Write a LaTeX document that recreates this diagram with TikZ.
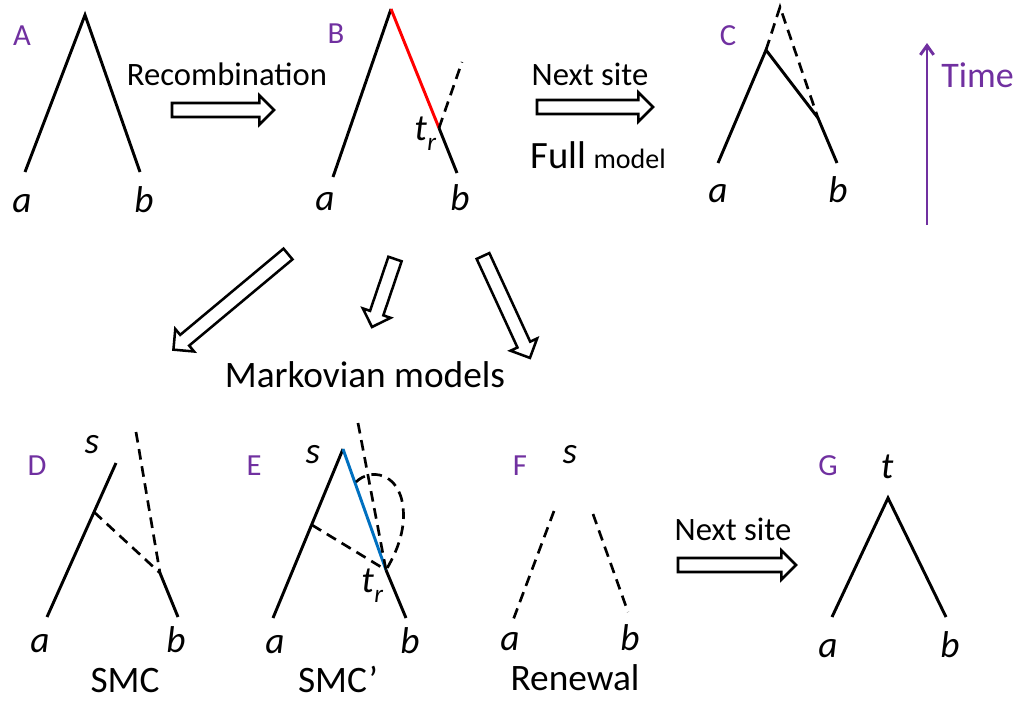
\documentclass[tikz,border=0pt]{standalone}
\usepackage{fontspec}
\setmainfont{Carlito}
\usetikzlibrary{calc,arrows.meta}

\definecolor{panelpurple}{HTML}{7030A0}
\definecolor{recred}{HTML}{FF0000}
\definecolor{smcblue}{HTML}{0070C0}

\tikzset{
  branch/.style={line width=2.2pt},
  ghost/.style={line width=2pt, dash pattern=on 8pt off 5pt},
  fat/.style={draw=black, line width=1.9pt, fill=white, line join=miter},
  panel/.style={font=\fontsize{23}{23}\selectfont, text=panelpurple, anchor=base, inner sep=0pt},
  var/.style={font=\fontsize{28}{28}\selectfont\itshape, anchor=base, inner sep=0pt},
  txt/.style={font=\fontsize{24.5}{24.5}\selectfont, anchor=base, inner sep=0pt},
  bigtxt/.style={font=\fontsize{28}{28}\selectfont, anchor=base, inner sep=0pt},
  timeaxis/.style={line width=2.2pt, draw=panelpurple, -{Straight Barb[length=7pt,width=10pt]}},
}

% recombination time label: italic t with a lowered r
\newcommand\trlabel{t\kern0.5pt\raisebox{-0.28em}{\fontsize{19}{19}\selectfont r}}

% hollow block arrow between two named coordinates
\newcommand\fatarrow[2]{%
  \draw[fat] let \p1=(#1), \p2=(#2),
    \n1={atan2(\y2-\y1,\x2-\x1)}, \n2={veclen(\x2-\x1,\y2-\y1)} in
    [shift={(\x1,\y1)}, rotate=\n1]
    (0pt,-5.25pt) -- ({\n2*1pt-11pt},-5.25pt) -- ({\n2*1pt-11pt},-11pt)
    -- ({\n2*1pt},0pt)
    -- ({\n2*1pt-11pt},11pt) -- ({\n2*1pt-11pt},5.25pt) -- (0pt,5.25pt) -- cycle;}

\begin{document}
\begin{tikzpicture}[x=0.75pt,y=-0.75pt]
\useasboundingbox (0,0) rectangle (1024,700);

% ---------- A: initial tree ----------
\coordinate (A-top) at (85,15);
\coordinate (A-a) at (25,172);
\coordinate (A-b) at (140,172);
\draw[branch] (A-a) -- (A-top) -- (A-b);
\node[panel] (A-lab) at (22,45) {A};
\node[var] (A-la) at (22,212) {a};
\node[var] (A-lb) at (144,212) {b};

% recombination step
\coordinate (rec-s) at (172,110);
\coordinate (rec-e) at (274,110);
\fatarrow{rec-s}{rec-e}
\node[txt] (rec-txt) at (227,85) {Recombination};

% ---------- B: recombination event ----------
\coordinate (B-top) at (391,9);
\coordinate (B-a) at (333,177);
\coordinate (B-tr) at (439,128);
\coordinate (B-b) at (457,173);
\coordinate (B-ghost) at (462,62);
\draw[branch] (B-a) -- (B-top);
\draw[branch, draw=recred] (B-top) -- (B-tr);
\draw[branch] (B-tr) -- (B-b);
\draw[ghost] (B-tr) -- (B-ghost);
\node[panel] (B-lab) at (336,43) {B};
\node[var] (B-la) at (325,210) {a};
\node[var] (B-lb) at (460,210) {b};
\node[var, anchor=base west] (B-tlab) at (414,140) {\trlabel};

% next site, full model
\coordinate (nx1-s) at (537,107);
\coordinate (nx1-e) at (653,107);
\fatarrow{nx1-s}{nx1-e}
\node[txt] (nx1-txt) at (590,85) {Next site};
\node[txt] (full-txt) at (598,168) {{\fontsize{29}{29}\selectfont Full} {\fontsize{21}{21}\selectfont model}};

% ---------- C: tree at next site ----------
\coordinate (C-a) at (718,163);
\coordinate (C-top) at (766,50);
\coordinate (C-knee) at (818,118);
\coordinate (C-b) at (837,163);
\coordinate (C-ghost) at (780,7);
\draw[branch] (C-a) -- (C-top) -- (C-knee) -- (C-b);
\draw[ghost] (C-top) -- (C-ghost) -- (C-knee);
\node[panel] (C-lab) at (728,45) {C};
\node[var] (C-la) at (718,202) {a};
\node[var] (C-lb) at (838,202) {b};

% time axis
\coordinate (time-lo) at (927,225);
\coordinate (time-hi) at (927,43);
\draw[timeaxis] (time-lo) -- (time-hi);
\node[bigtxt, anchor=base west, text=panelpurple, font=\fontsize{27}{27}\selectfont] (time-txt) at (941,87) {Time};

% ---------- Markovian approximations ----------
\coordinate (mk1-s) at (288,254);
\coordinate (mk1-e) at (173,350);
\coordinate (mk2-s) at (395,259);
\coordinate (mk2-e) at (372,327);
\coordinate (mk3-s) at (483,256);
\coordinate (mk3-e) at (530,358);
\fatarrow{mk1-s}{mk1-e}
\fatarrow{mk2-s}{mk2-e}
\fatarrow{mk3-s}{mk3-e}
\node[bigtxt] (mk-txt) at (365,387) {Markovian models};

% ---------- D: SMC ----------
\coordinate (D-a) at (47,617);
\coordinate (D-s) at (116,463);
\coordinate (D-mid) at (94,512);
\coordinate (D-knee) at (160,573);
\coordinate (D-b) at (178,617);
\coordinate (D-ghost) at (136,432);
\draw[branch] (D-a) -- (D-s);
\draw[branch] (D-knee) -- (D-b);
\draw[ghost] (D-mid) -- (D-knee);
\draw[ghost] (D-ghost) -- (D-knee);
\node[panel] (D-lab) at (37,475) {D};
\node[var] (D-ls) at (92,453) {s};
\node[var] (D-la) at (40,652) {a};
\node[var] (D-lb) at (176,652) {b};
\node[bigtxt] (D-txt) at (125,692) {SMC};

% ---------- E: SMC' ----------
\coordinate (E-a) at (273,618);
\coordinate (E-s) at (343,449);
\coordinate (E-tr) at (386,570);
\coordinate (E-b) at (406,618);
\coordinate (E-mid) at (312,525);
\coordinate (E-ghost) at (358,423);
\coordinate (E-loop) at (356,482);
\coordinate (E-rim) at (403,507);
\draw[branch] (E-a) -- (E-s);
\draw[branch, draw=smcblue] (E-s) -- (E-tr);
\draw[branch] (E-tr) -- (E-b);
\draw[ghost] (E-mid) -- (E-tr);
\draw[ghost] (E-ghost) -- (E-tr);
\draw[ghost] (E-loop) .. controls (370,468) and (399,472) .. (E-rim)
  .. controls (406,532) and (395,555) .. (E-tr);
\node[panel] (E-lab) at (254,475) {E};
\node[var] (E-ls) at (313,463) {s};
\node[var, anchor=base west] (E-tlab) at (361,592) {\trlabel};
\node[var] (E-la) at (275,653) {a};
\node[var] (E-lb) at (410,653) {b};
\node[bigtxt] (E-txt) at (338,692) {SMC’};

% ---------- F: renewal ----------
\coordinate (F-ltop) at (554,511);
\coordinate (F-a) at (512,623);
\coordinate (F-rtop) at (593,514);
\coordinate (F-b) at (628,612);
\draw[ghost] (F-ltop) -- (F-a);
\draw[ghost] (F-rtop) -- (F-b);
\node[panel] (F-lab) at (520,475) {F};
\node[var] (F-ls) at (570,463) {s};
\node[var] (F-la) at (510,650) {a};
\node[var] (F-lb) at (630,650) {b};
\node[bigtxt] (F-txt) at (575,690) {Renewal};

% next site after renewal
\coordinate (nx2-s) at (678,565);
\coordinate (nx2-e) at (796,565);
\fatarrow{nx2-s}{nx2-e}
\node[txt] (nx2-txt) at (733,540) {Next site};

% ---------- G: new tree ----------
\coordinate (G-top) at (888,498);
\coordinate (G-a) at (832,617);
\coordinate (G-b) at (946,617);
\draw[branch] (G-a) -- (G-top) -- (G-b);
\node[panel] (G-lab) at (828,475) {G};
\node[var] (G-lt) at (887,478) {t};
\node[var] (G-la) at (828,657) {a};
\node[var] (G-lb) at (950,657) {b};
\end{tikzpicture}
\end{document}
